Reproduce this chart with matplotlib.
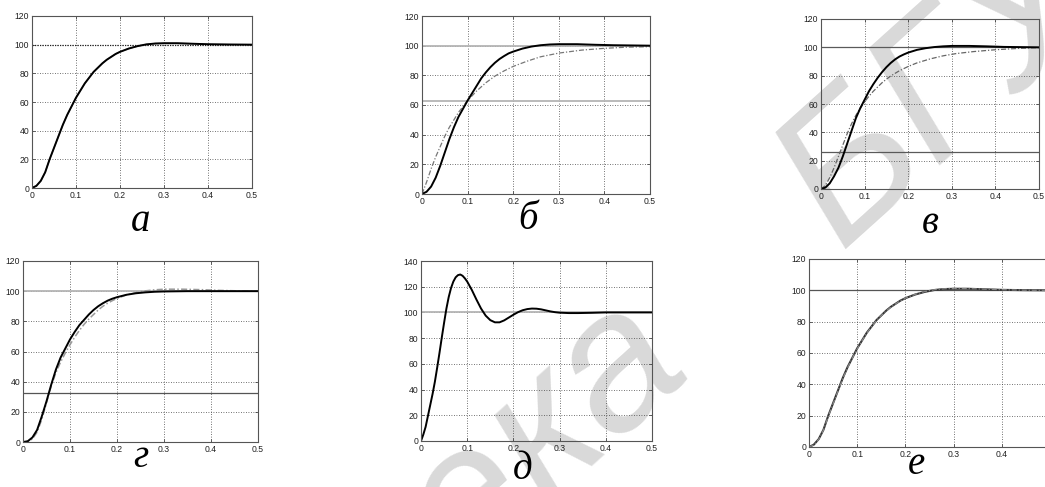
import matplotlib
matplotlib.use('Agg')
import matplotlib.pyplot as plt
from matplotlib.ticker import FixedLocator, FixedFormatter

# ---------------- data ----------------
x_ticks = [0, 0.1, 0.2, 0.3, 0.4, 0.5]
x_tick_labels = ["0", "0.1", "0.2", "0.3", "0.4", "0.5"]
y_ticks_120 = [0, 20, 40, 60, 80, 100, 120]
y_ticks_140 = [0, 20, 40, 60, 80, 100, 120, 140]
panel_labels = ["а", "б", "в", "г", "д", "е"]

# panel а
t_a = [0, 0.01, 0.02, 0.03, 0.04, 0.05, 0.06, 0.07, 0.08, 0.09, 0.10, 0.11, 0.12,
       0.13, 0.14, 0.15, 0.16, 0.17, 0.18, 0.19, 0.20, 0.22, 0.24, 0.26, 0.28,
       0.30, 0.33, 0.36, 0.40, 0.45, 0.50]
y_a = [0, 1.5, 5, 11, 20, 28, 36, 44, 51, 57, 63, 68, 73, 77, 81, 84, 87, 89.5,
       91.5, 93.5, 95, 97.3, 99, 100.2, 100.8, 101, 101, 100.7, 100.3, 100.1, 100]

# panel б
t_b = [0, 0.01, 0.02, 0.03, 0.04, 0.05, 0.06, 0.07, 0.08, 0.09, 0.10, 0.11, 0.12,
       0.13, 0.14, 0.15, 0.16, 0.17, 0.18, 0.19, 0.20, 0.22, 0.24, 0.26, 0.28,
       0.30, 0.34, 0.38, 0.42, 0.50]
y_b_solid = [0, 1.5, 5, 11, 19, 28, 37, 45, 52, 57.5, 63, 68, 73, 78, 82, 85.5,
             88.5, 91, 93, 94.8, 96, 98, 99.4, 100.3, 100.8, 101, 101, 100.6,
             100.3, 100]
t_b_dash = [0, 0.01, 0.02, 0.03, 0.04, 0.05, 0.06, 0.07, 0.08, 0.09, 0.10, 0.12,
            0.14, 0.16, 0.18, 0.20, 0.23, 0.26, 0.30, 0.35, 0.40, 0.45, 0.50]
y_b_dash = [0, 8, 17, 25, 32, 39, 45, 50, 55, 59, 63, 69.5, 75, 79.5, 83, 86,
            89.5, 92.5, 95, 97, 98.2, 99, 99.3]
b_levels = [100, 63]

# panel в
t_c = [0, 0.01, 0.02, 0.03, 0.04, 0.05, 0.06, 0.07, 0.08, 0.09, 0.10, 0.11, 0.12,
       0.13, 0.14, 0.15, 0.16, 0.17, 0.18, 0.19, 0.20, 0.22, 0.24, 0.26, 0.28,
       0.30, 0.34, 0.38, 0.42, 0.50]
y_c_solid = [0, 1, 4, 9, 15, 23, 32, 41, 50, 57, 63, 69, 74, 78.5, 82.5, 86, 89,
             91.5, 93.5, 95, 96.3, 98.2, 99.4, 100.2, 100.7, 101, 101, 100.7,
             100.3, 100]
t_c_dash = [0, 0.01, 0.02, 0.03, 0.04, 0.05, 0.06, 0.07, 0.08, 0.09, 0.10, 0.11,
            0.12, 0.13, 0.14, 0.15, 0.16, 0.18, 0.20, 0.22, 0.25, 0.28, 0.31,
            0.35, 0.40, 0.45, 0.50]
y_c_dash = [0, 2.5, 8, 15, 23, 31, 39, 46, 52, 57, 61.5, 65.5, 69, 72, 75, 77.5,
            79.8, 83.5, 86.5, 89, 91.8, 94, 95.6, 97, 98.3, 99.2, 99.8]
c_levels = [100, 26]

# panel г
t_d = [0, 0.01, 0.02, 0.03, 0.04, 0.05, 0.06, 0.07, 0.08, 0.09, 0.10, 0.11, 0.12,
       0.13, 0.14, 0.15, 0.16, 0.17, 0.18, 0.19, 0.20, 0.22, 0.24, 0.26, 0.28,
       0.30, 0.35, 0.50]
y_d_solid = [0, 0.5, 3, 8, 17, 27, 38, 48, 56, 62, 68, 73, 77.5, 81, 84.5, 87.5,
             90, 92, 93.7, 95, 96, 97.6, 98.6, 99.2, 99.6, 99.8, 100, 100]
t_d_dash = [0, 0.01, 0.02, 0.03, 0.04, 0.05, 0.06, 0.07, 0.08, 0.09, 0.10, 0.11,
            0.12, 0.13, 0.14, 0.15, 0.16, 0.17, 0.18, 0.19, 0.20, 0.22, 0.24,
            0.26, 0.28, 0.30, 0.34, 0.38, 0.42, 0.46, 0.50]
y_d_dash = [0, 0.3, 2, 6.5, 15, 26, 37, 46, 53, 59, 64.5, 69.5, 74, 78, 81.5,
            84.5, 87.5, 90, 92, 93.7, 95.2, 97.5, 99, 100.2, 100.9, 101.3, 101.3,
            101, 100.5, 100.2, 100]
d_levels = [100, 32.5]

# panel д
t_e = [0, 0.005, 0.01, 0.015, 0.02, 0.025, 0.03, 0.035, 0.04, 0.045, 0.05, 0.055,
       0.06, 0.065, 0.07, 0.075, 0.08, 0.085, 0.09, 0.095, 0.10, 0.11, 0.12, 0.13,
       0.14, 0.15, 0.16, 0.17, 0.18, 0.19, 0.20, 0.21, 0.22, 0.23, 0.24, 0.25,
       0.26, 0.27, 0.28, 0.29, 0.30, 0.32, 0.34, 0.37, 0.40, 0.50]
y_e = [0, 5, 11, 19.5, 28, 36.5, 46, 57, 68.5, 80.5, 92, 103, 112, 119, 124,
       127.3, 129, 129.5, 128.5, 126.5, 124, 117.5, 110, 103, 97.5, 94, 92.3,
       92.3, 93.8, 96, 98.2, 100.2, 101.7, 102.6, 103, 102.9, 102.4, 101.6, 100.8,
       100.2, 99.8, 99.5, 99.5, 99.7, 100, 100]
e_levels = [100]

# panel е
t_f = [0, 0.01, 0.02, 0.03, 0.04, 0.05, 0.06, 0.07, 0.08, 0.09, 0.10, 0.11, 0.12,
       0.13, 0.14, 0.15, 0.16, 0.17, 0.18, 0.19, 0.20, 0.22, 0.24, 0.26, 0.28,
       0.30, 0.33, 0.36, 0.40, 0.45, 0.50]
y_f = [0, 1.5, 5, 11, 20, 28, 36, 44, 51, 57, 63, 68, 73, 77, 81, 84, 87, 89.5,
       91.5, 93.5, 95, 97.3, 99, 100.2, 100.8, 101, 101, 100.7, 100.3, 100.1, 100]
y_f_dash = [0, 1.3, 4.8, 10.8, 19.6, 27.6, 35.6, 43.6, 50.6, 56.8, 62.6, 67.8,
            72.8, 76.8, 80.8, 84, 86.8, 89.3, 91.4, 93.4, 95, 97.4, 99.2, 100.4,
            101, 101.2, 101.1, 100.8, 100.4, 100.1, 100]
f_levels = [100]
f_tick_labels = ["0", "0.1", "0.2", "0.3", "0.4", ""]

watermark_parts = ["Библиоте", "ка", "БГУИР"]

# ---------------- figure ----------------
W, H = 1045, 487
fig = plt.figure(figsize=(W / 100, H / 100), dpi=100)
fig.patch.set_facecolor('white')

# watermark (light grey, behind the plots)
wm_kw = dict(transform=None, rotation=42, rotation_mode='anchor', va='baseline',
             fontsize=140, color='#d9d9d9', family='Liberation Sans',
             style='italic', zorder=0)
fig.text(545, H - 505, watermark_parts[0], ha='right', **wm_kw)
fig.text(545, H - 505, watermark_parts[1], ha='left', **wm_kw)
fig.text(840, H - 250, watermark_parts[2], ha='left', **wm_kw)


def add_ax(l, t, r, b, ymax, yticks, xlabels=x_tick_labels):
    ax = fig.add_axes([l / W, 1 - b / H, (r - l) / W, (b - t) / H])
    ax.set_zorder(1)
    ax.patch.set_alpha(0)
    ax.set_xlim(0, 0.5)
    ax.set_ylim(0, ymax)
    ax.xaxis.set_major_locator(FixedLocator(x_ticks))
    ax.xaxis.set_major_formatter(FixedFormatter(xlabels))
    ax.yaxis.set_major_locator(FixedLocator(yticks))
    ax.yaxis.set_major_formatter(FixedFormatter([str(v) for v in yticks]))
    ax.tick_params(direction='in', length=2.5, width=0.6, top=True, right=True,
                   labelsize=6.2, labelcolor='#222222', color='#444444', pad=2)
    for lab in ax.get_xticklabels() + ax.get_yticklabels():
        lab.set_family('Liberation Sans')
    ax.grid(True, linestyle=(0, (1, 2)), color='#444444', linewidth=0.6)
    for s in ax.spines.values():
        s.set_color('#555555')
        s.set_linewidth(0.8)
    return ax


axes = [
    add_ax(32, 16, 252, 188, 120, y_ticks_120),
    add_ax(422, 16, 650, 194, 120, y_ticks_120),
    add_ax(821, 19, 1039, 189, 120, y_ticks_120),
    add_ax(23, 261, 258, 442, 120, y_ticks_120),
    add_ax(421, 261, 652, 441, 140, y_ticks_140),
    add_ax(809, 259, 1050, 447, 120, y_ticks_120, f_tick_labels),
]

# а
ax = axes[0]
ax.axhline(100, color='#222222', linestyle=(0, (1, 1)), linewidth=0.9)
ax.plot(t_a, y_a, color='#999999', linewidth=1.0)
ax.plot(t_a, y_a, color='black', linewidth=1.4)

# б
ax = axes[1]
for lv in b_levels:
    ax.axhline(lv, color='#b4b4b4', linewidth=1.3)
ax.plot(t_b_dash, y_b_dash, color='#777777', linestyle=(0, (4, 1.5, 1, 1.5)),
        linewidth=0.9)
ax.plot(t_b, y_b_solid, color='black', linewidth=1.4)

# в
ax = axes[2]
for lv in c_levels:
    ax.axhline(lv, color='#5a5a5a', linewidth=0.9)
ax.plot(t_c_dash, y_c_dash, color='#666666', linestyle=(0, (4, 1.5, 1, 1.5)),
        linewidth=0.9)
ax.plot(t_c, y_c_solid, color='black', linewidth=1.4)

# г
ax = axes[3]
ax.axhline(d_levels[0], color='#b4b4b4', linewidth=1.3)
ax.axhline(d_levels[1], color='#555555', linewidth=0.9)
ax.plot(t_d_dash, y_d_dash, color='#999999', linestyle=(0, (4, 1.5, 1, 1.5)),
        linewidth=1.1)
ax.plot(t_d, y_d_solid, color='black', linewidth=1.4)

# д
ax = axes[4]
for lv in e_levels:
    ax.axhline(lv, color='#b4b4b4', linewidth=1.3)
ax.plot(t_e, y_e, color='black', linewidth=1.4)

# е
ax = axes[5]
for lv in f_levels:
    ax.axhline(lv, color='#555555', linewidth=0.9)
ax.plot(t_f, y_f, color='#333333', linewidth=1.5)
ax.plot(t_f, y_f_dash, color='#888888', linestyle=(0, (4, 1.5, 1, 1.5)),
        linewidth=0.9)

# panel letters
label_pos = [(141, 231), (528, 229), (930, 233), (141, 467), (523, 479), (916, 474)]
for (px, py), txt in zip(label_pos, panel_labels):
    fig.text(px / W, 1 - py / H, txt, ha='center', va='baseline', fontsize=28,
             style='italic', family='Liberation Serif', color='black')

fig.savefig('out.png', dpi=100)
